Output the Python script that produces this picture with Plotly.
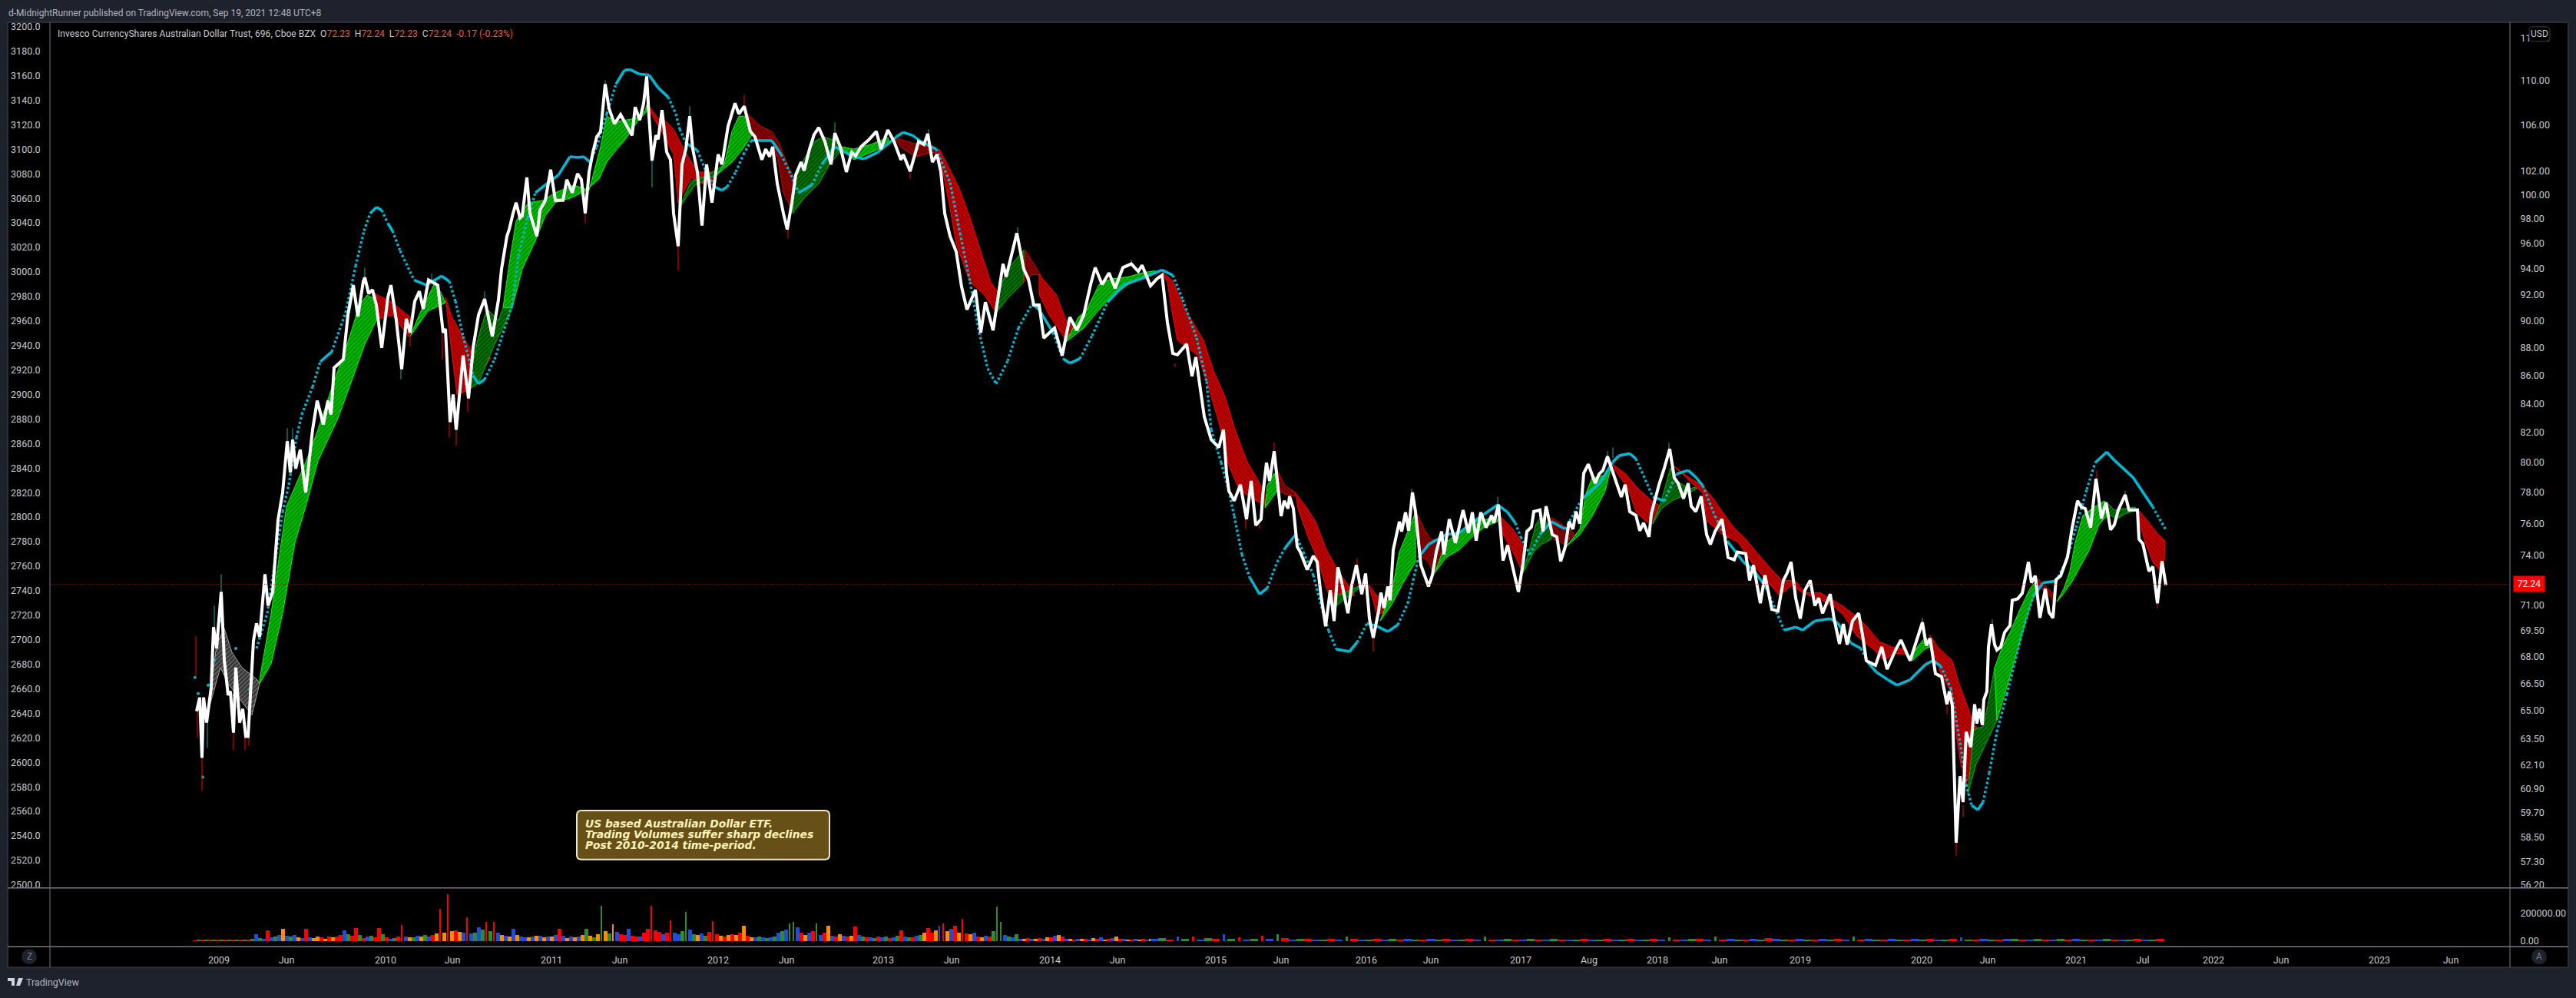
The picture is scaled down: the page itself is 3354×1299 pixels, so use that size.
import math
import plotly.graph_objects as go

W, H = 3354, 1299

# ---- axis labels ----
left_ticks = list(range(2500, 3201, 20))
right_ticks = [114, 110, 106, 102, 100, 98, 96, 94, 92, 90, 88, 86, 84, 82, 80, 78, 76, 74, 71, 69.5, 68, 66.5,
               65, 63.5, 62.1, 60.9, 59.7, 58.5, 57.3, 56.2]
volume_ticks = [0, 200000]
time_bars = [285, 373, 502, 589, 718, 807, 935, 1024, 1150, 1239, 1367, 1455, 1583, 1668, 1779, 1863, 1980, 2069,
             2158, 2239, 2344, 2502, 2588, 2703, 2790, 2882, 2970, 3098, 3191]
time_labels = ["2009", "Jun", "2010", "Jun", "2011", "Jun", "2012", "Jun", "2013", "Jun", "2014", "Jun", "2015", "Jun",
               "2016", "Jun", "2017", "Aug", "2018", "Jun", "2019", "2020", "Jun", "2021", "Jul", "2022", "Jun", "2023", "Jun"]
last_price = 72.24
note_lines = ["US based Australian Dollar ETF.", "Trading Volumes suffer sharp declines", "Post 2010-2014 time-period."]

# ---- price, read against the left scale ----
close_points = [
 (256,2641.7),(260,2652.9),(263,2603.7),(265,2652.9),(269,2632.4),(275,2661.1),(278,2710.3),(282,2692.9),(288,2739.0),
 (292,2683.5),(297,2654.8),(300,2657.9),(304,2624.2),(307,2677.3),(312,2632.4),(316,2643.6),(320,2621.1),(323,2621.1),
 (330,2699.1),(334,2713.4),(338,2702.2),(342,2734.0),(345,2753.4),(349,2727.8),(355,2739.0),(362,2797.7),(368,2820.1),
 (374,2861.9),(378,2836.3),(381,2863.2),(385,2839.5),(391,2855.1),(398,2820.1),(407,2871.3),(413,2895.0),(421,2875.6),
 (427,2895.0),(431,2883.7),(435,2921.8),(447,2928.7),(453,2964.8),(460,2989.2),(466,2963.6),(473,2992.3),(475,2995.4),
 (480,2982.3),(485,2985.4),(490,2973.0),(497,2938.0),(505,2979.2),(509,2989.2),(516,2960.5),(523,2920.6),(529,2961.7),
 (534,2950.5),(540,2976.1),(546,2984.2),(551,2969.8),(558,2993.5),(570,2989.2),(577,2950.5),(580,2953.6),(586,2877.5),
 (590,2900.0),(594,2871.3),(603,2931.8),(610,2896.8),(616,2938.0),(623,2964.8),(631,2977.9),(641,2947.4),(649,2977.3),
 (653,3002.3),(660,3029.1),(663,3034.7),(668,3047.8),(672,3056.5),(677,3044.1),(680,3045.9),(686,3077.1),(690,3047.8),
 (699,3029.1),(703,3050.3),(710,3058.4),(717,3083.4),(723,3058.4),(733,3058.4),(738,3075.3),(745,3064.6),(752,3080.2),
 (757,3075.3),(762,3047.8),(767,3081.5),(772,3097.7),(777,3110.2),(782,3114.6),(788,3153.2),(793,3133.3),(800,3120.8),
 (808,3128.3),(817,3117.7),(823,3111.4),(827,3134.5),(833,3123.9),(838,3137.6),(842,3159.5),(845,3127.0),(849,3090.8),
 (854,3111.4),(857,3108.3),(862,3132.0),(868,3097.7),(873,3091.5),(877,3047.8),(883,3021.0),(888,3087.7),(893,3100.2),
 (898,3127.0),(902,3100.2),(908,3081.5),(914,3037.8),(920,3087.7),(927,3056.5),(935,3095.8),(940,3087.7),(948,3118.9),
 (957,3137.6),(962,3128.9),(969,3135.1),(977,3114.6),(983,3110.2),(992,3091.5),(997,3100.2),(1002,3094.0),(1006,3102.1),
 (1012,3072.1),(1020,3047.8),(1025,3034.7),(1031,3056.5),(1036,3079.0),(1043,3089.6),(1047,3082.7),(1054,3100.2),
 (1060,3112.1),(1066,3117.7),(1074,3106.4),(1082,3087.7),(1087,3113.3),(1094,3102.1),(1102,3081.5),(1109,3097.7),
 (1114,3094.6),(1121,3102.1),(1132,3108.3),(1141,3114.6),(1147,3100.2),(1156,3115.8),(1164,3106.4),(1173,3091.5),
 (1176,3095.8),(1185,3082.1),(1196,3106.4),(1203,3103.9),(1208,3112.7),(1214,3089.6),(1220,3095.8),(1225,3081.5),
 (1230,3047.8),(1237,3029.1),(1245,3016.6),(1252,2987.9),(1259,2969.2),(1270,2985.4),(1277,2950.5),(1283,2975.4),
 (1293,2952.4),(1306,3006.6),(1310,2996.0),(1324,3031.6),(1333,3002.3),(1339,2994.2),(1346,2973.0),(1353,2973.0),
 (1359,2946.1),(1373,2954.2),(1383,2931.8),(1393,2963.0),(1402,2952.4),(1411,2964.8),(1420,2989.8),(1426,3003.5),
 (1435,2989.8),(1444,2999.2),(1452,2986.7),(1462,3003.5),(1473,3006.6),(1482,3000.4),(1487,3005.4),(1498,2988.6),
 (1507,2994.8),(1513,2997.3),(1520,2958.6),(1527,2933.6),(1533,2932.4),(1545,2941.1),(1552,2914.9),(1557,2930.5),
 (1568,2881.9),(1577,2863.2),(1587,2856.9),(1593,2871.3),(1597,2835.7),(1600,2821.4),(1607,2813.3),(1615,2826.4),
 (1623,2798.3),(1629,2829.5),(1635,2793.3),(1642,2798.3),(1644,2817.0),(1649,2844.4),(1653,2829.5),(1659,2853.8),
 (1665,2817.0),(1668,2800.8),(1672,2813.3),(1677,2807.0),(1679,2817.0),(1684,2807.0),(1689,2775.8),(1693,2771.5),
 (1702,2757.1),(1710,2768.3),(1715,2763.4),(1720,2735.9),(1726,2711.0),(1732,2740.3),(1737,2715.3),(1742,2759.0),
 (1747,2746.5),(1755,2721.6),(1760,2744.6),(1766,2760.9),(1773,2737.2),(1778,2754.0),(1783,2717.2),(1788,2701.6),
 (1795,2723.4),(1798,2738.4),(1802,2725.9),(1807,2743.4),(1810,2732.2),(1814,2773.3),(1822,2796.4),(1825,2788.3),
 (1830,2803.9),(1834,2788.9),(1839,2820.1),(1843,2804.5),(1850,2760.9),(1860,2743.4),(1865,2752.7),(1870,2771.5),
 (1877,2788.3),(1880,2769.6),(1887,2798.3),(1895,2778.9),(1905,2805.8),(1912,2787.1),(1917,2803.9),(1922,2780.8),
 (1928,2803.9),(1935,2791.4),(1942,2801.4),(1945,2795.2),(1951,2810.1),(1957,2764.6),(1963,2777.1),(1972,2750.9),
 (1977,2739.0),(1983,2762.1),(1988,2788.3),(1994,2792.0),(1997,2804.5),(2005,2805.8),(2009,2788.3),(2013,2808.9),
 (2021,2785.8),(2027,2783.9),(2032,2764.0),(2038,2775.8),(2043,2796.4),(2048,2790.2),(2052,2804.5),(2057,2794.6),
 (2062,2835.7),(2068,2843.2),(2077,2827.6),(2082,2835.1),(2087,2838.2),(2093,2849.4),(2098,2840.1),(2105,2827.6),
 (2111,2816.4),(2116,2826.4),(2122,2804.5),(2130,2801.4),(2135,2788.9),(2140,2795.2),(2147,2783.9),(2150,2802.6),
 (2160,2826.4),(2167,2840.1),(2174,2855.7),(2180,2832.0),(2185,2827.6),(2192,2815.1),(2198,2827.6),(2202,2808.9),
 (2208,2804.5),(2215,2817.0),(2222,2785.8),(2227,2777.7),(2233,2788.3),(2242,2798.3),(2250,2767.1),(2258,2765.2),
 (2262,2771.5),(2273,2770.2),(2278,2748.4),(2283,2760.9),(2292,2729.7),(2298,2752.7),(2307,2724.7),(2315,2723.4),
 (2322,2748.4),(2327,2754.6),(2332,2763.4),(2338,2734.0),(2344,2717.2),(2350,2740.3),(2357,2748.4),(2363,2727.8),
 (2368,2734.0),(2373,2721.6),(2383,2737.2),(2388,2717.2),(2395,2696.6),(2400,2712.8),(2405,2696.0),(2412,2715.3),
 (2420,2721.6),(2425,2704.1),(2430,2682.9),(2442,2679.1),(2450,2694.1),(2457,2676.0),(2468,2691.6),(2475,2699.7),
 (2487,2682.9),(2495,2698.5),(2503,2714.1),(2508,2695.4),(2513,2701.0),(2520,2672.3),(2528,2669.8),(2535,2647.3),
 (2538,2657.9),(2542,2646.1),(2545,2586.2),(2547,2534.4),(2552,2588.7),(2556,2567.5),(2560,2624.9),(2566,2612.4),
 (2571,2647.3),(2574,2631.7),(2577,2643.6),(2581,2630.5),(2583,2651.1),(2587,2657.9),(2589,2694.1),(2593,2712.8),
 (2597,2696.0),(2600,2691.6),(2605,2694.1),(2610,2706.0),(2617,2711.6),(2620,2732.2),(2627,2733.4),(2633,2737.8),
 (2641,2763.4),(2645,2746.5),(2650,2752.1),(2656,2717.8),(2663,2741.5),(2668,2722.2),(2673,2717.8),(2677,2749.0),
 (2683,2752.1),(2692,2767.7),(2698,2791.4),(2705,2813.3),(2710,2808.3),(2715,2807.0),(2722,2791.4),(2725,2808.3),
 (2729,2831.3),(2733,2813.3),(2736,2798.9),(2742,2812.0),(2748,2789.6),(2753,2793.9),(2758,2805.8),(2767,2818.2),
 (2772,2805.8),(2778,2805.8),(2783,2805.8),(2785,2782.1),(2790,2778.3),(2798,2755.9),(2803,2759.6),(2809,2729.7),
 (2815,2764.0),(2820,2744.6)]
close_bars, close_values = map(list, zip(*close_points))

# ---- cyan trailing line ----
trail_points = [
 (334,2692.9),(348,2721.6),(368,2804.5),(376,2826.4),(386,2865.0),(393,2883.7),(407,2906.2),(417,2926.8),(432,2934.9),
 (450,2966.7),(463,3004.8),(474,3033.5),(482,3047.8),(490,3052.8),(497,3050.3),(505,3039.7),(511,3033.5),(521,3017.2),
 (539,2993.5),(555,2989.2),(575,2996.7),(585,2992.3),(593,2976.1),(603,2947.4),(616,2915.6),(623,2908.7),(631,2912.4),
 (644,2928.7),(662,2963.6),(667,2973.0),(675,3012.9),(687,3044.1),(697,3064.6),(710,3070.9),(727,3079.0),(742,3094.0),
 (753,3093.3),(760,3094.0),(768,3089.6),(777,3102.1),(790,3128.9),(802,3153.2),(813,3164.5),(820,3165.1),(833,3161.3),
 (845,3160.7),(857,3150.1),(870,3142.6),(880,3128.9),(885,3116.4),(893,3105.2),(908,3099.0),(917,3085.2),(930,3069.6),
 (940,3066.5),(947,3069.6),(958,3081.5),(968,3095.8),(978,3107.1),(993,3107.1),(1005,3107.1),(1017,3095.8),(1030,3079.0),
 (1040,3064.6),(1057,3070.9),(1070,3087.7),(1087,3102.1),(1109,3094.6),(1125,3092.1),(1143,3097.7),(1167,3110.2),
 (1176,3113.9),(1188,3111.4),(1199,3106.4),(1219,3100.2),(1237,3072.8),(1250,3031.6),(1263,2991.7),(1275,2950.5),
 (1286,2921.2),(1297,2908.7),(1312,2927.4),(1326,2954.2),(1344,2974.2),(1353,2969.2),(1371,2950.5),(1384,2929.3),
 (1393,2925.5),(1406,2929.3),(1422,2948.0),(1442,2975.4),(1464,2989.8),(1487,2994.8),(1513,3001.6),(1527,2997.3),
 (1540,2977.3),(1558,2946.1),(1571,2910.6),(1577,2871.3),(1590,2844.4),(1600,2821.4),(1607,2800.8),(1617,2769.6),
 (1627,2750.9),(1640,2737.2),(1650,2742.1),(1663,2763.4),(1673,2774.6),(1687,2785.8),(1697,2771.5),(1710,2752.7),
 (1722,2723.4),(1730,2707.2),(1740,2692.2),(1757,2690.4),(1767,2697.9),(1780,2713.4),(1793,2711.0),(1807,2706.6),
 (1820,2712.2),(1833,2729.7),(1840,2748.4),(1847,2767.1),(1860,2777.7),(1883,2785.8),(1900,2787.1),(1923,2798.3),
 (1950,2810.1),(1963,2803.9),(1973,2795.2),(1980,2783.9),(1992,2769.6),(2005,2785.8),(2020,2796.4),(2038,2790.2),
 (2060,2815.1),(2083,2827.6),(2100,2845.1),(2108,2850.1),(2122,2851.9),(2130,2847.6),(2140,2833.8),(2152,2816.4),
 (2167,2813.3),(2183,2835.1),(2198,2838.2),(2208,2832.6),(2217,2825.7),(2233,2800.8),(2250,2779.6),(2270,2763.4),
 (2283,2757.1),(2300,2742.1),(2313,2722.8),(2323,2707.8),(2338,2710.3),(2347,2707.8),(2363,2715.3),(2383,2717.2),
 (2393,2713.4),(2410,2697.2),(2423,2692.9),(2432,2681.6),(2443,2673.6),(2458,2667.3),(2470,2662.9),(2487,2667.3),
 (2507,2679.8),(2517,2682.9),(2527,2678.5),(2540,2660.4),(2553,2612.4),(2560,2581.8),(2567,2565.0),(2575,2561.2),
 (2582,2567.5),(2590,2591.2),(2600,2624.9),(2613,2655.4),(2633,2706.0),(2647,2734.7),(2660,2746.5),(2677,2747.8),
 (2690,2763.4),(2703,2791.4),(2717,2822.6),(2728,2844.4),(2743,2853.2),(2753,2846.3),(2777,2832.6),(2803,2808.3),
 (2820,2789.6)]
trail_bars, trail_values = map(list, zip(*trail_points))

early_dot_bars = [254, 258, 264, 271, 279, 287, 305, 307, 310, 317, 325]
early_dot_values = [2669.2, 2656.1, 2588.0, 2662.9, 2683.5, 2715.3, 2654.8, 2692.9, 2645.4, 2638.6, 2659.2]

# ---- candle wicks: bar, high, low ----
up_wicks = [(288,2753.4,2739.0),(279,2727.8,2710.3),(270,2632.4,2611.8),(374,2872.5,2861.9),(381,2872.5,2863.2),
 (475,3003.5,2995.4),(562,2998.5,2993.5),(631,2984.2,2977.9),(522,2920.6,2912.4),(788,3156.3,3153.2),(849,3090.8,3069.0),
 (898,3135.1,3127.0),(1087,3122.0,3113.3),(1209,3116.4,3112.7),(1325,3036.6,3031.6),(1473,3009.8,3006.6),(1838,2823.2,2820.1),
 (1950,2816.4,2810.1),(2173,2860.7,2855.7),(2100,2856.9,2848.2),(2093,2853.8,2849.4),(2767,2821.4,2818.2),(2503,2717.8,2714.1),
 (2594,2716.6,2712.8)]
down_wicks = [(255,2702.8,2669.2),(257,2641.7,2619.9),(263,2603.7,2576.8),(304,2624.2,2609.9),(319,2621.1,2609.9),
 (324,2621.1,2613.6),(585,2877.5,2865.0),(594,2871.3,2858.2),(609,2896.8,2885.6),(534,2950.5,2939.3),(576,2950.5,2928.7),
 (883,3021.0,3001.0),(762,3047.8,3039.7),(1026,3034.7,3027.2),(969,3144.5,3135.1),(842,3163.2,3159.5),(1185,3082.1,3075.9),
 (1277,2950.5,2946.1),(1788,2701.6,2690.4),(1767,2766.5,2760.9),(1659,2860.7,2853.8),(1530,2925.5,2922.4),(1622,2798.3,2790.2),
 (1640,2794.5,2790.2),(2547,2534.4,2523.8),(2556,2565.0,2555.6),(2535,2646.1,2639.2),(2809,2729.7,2725.3),(2730,2838.2,2831.3)]

# ---- ribbon segments: upper edge and lower edge, as (bar, value) ----
ribbon_kinds = ["flat","up","down","up","down","dkup","up","down","dkup","up","dkdown","dkup","up","dkdown","down","dkup",
 "dkdown","down","up","down","up","dkdown","down","dkup","down","up","dkdown","up","down","dkup","dkdown","up","down","dkup",
 "down","up","down","dkup","up","dkdown","up","dkup","down"]
ribbon_upper = [
 [(282,2696.0),(292,2709.1),(302,2689.7),(315,2677.3),(335,2667.3)],
 [(338,2667.3),(353,2721.6),(373,2808.9),(399,2846.3),(414,2871.3),(432,2905.6),(450,2936.8),(468,2973.0),(478,2981.1),(490,2977.3)],
 [(488,2982.3),(511,2974.8),(537,2961.7)],
 [(547,2966.7),(567,2992.3),(577,2979.2)],
 [(580,2979.2),(588,2963.6),(603,2947.4),(616,2933.0),(639,2929.9)],
 [(623,2947.4),(634,2969.8),(649,2960.5),(655,2971.0)],
 [(655,2971.0),(663,3006.6),(672,3041.6),(688,3056.5),(707,3058.4),(723,3064.6),(747,3070.9),(767,3066.5),(782,3102.1),(790,3127.0),(803,3122.7),(827,3125.2),(840,3131.4),(843,3138.3)],
 [(845,3135.1),(857,3125.2),(867,3122.7),(877,3116.4),(887,3104.0),(893,3097.7),(900,3089.6),(910,3081.5),(930,3081.5)],
 [(887,3056.5),(900,3074.0),(920,3078.4),(943,3087.7)],
 [(943,3087.7),(953,3114.6),(962,3127.0),(972,3127.0),(977,3112.7)],
 [(972,3130.1),(990,3119.0),(1005,3114.6),(1013,3106.4),(1027,3085.2),(1037,3072.8)],
 [(1035,3075.3),(1043,3087.7),(1060,3106.4),(1073,3110.2),(1090,3106.4)],
 [(1096,3102.1),(1112,3100.2),(1134,3104.0),(1156,3109.6)],
 [(1165,3109.6),(1188,3105.2),(1221,3100.2)],
 [(1223,3100.2),(1237,3083.4),(1250,3066.5),(1263,3044.1),(1277,3016.6),(1290,2991.7),(1301,2981.7)],
 [(1299,2981.7),(1312,3002.3),(1333,3017.9)],
 [(1335,3017.9),(1348,3004.1),(1353,2999.2)],
 [(1353,2997.9),(1375,2981.7),(1388,2960.5),(1402,2954.2)],
 [(1404,2963.0),(1415,2969.2),(1431,2989.8),(1446,2994.2),(1469,2996.0),(1487,2999.2),(1504,3001.0)],
 [(1513,3000.4),(1527,2992.9),(1542,2971.0),(1558,2954.2),(1567,2944.2),(1580,2919.3),(1595,2898.1),(1608,2871.3),(1623,2846.3),(1640,2827.6),(1647,2818.2)],
 [(1650,2825.7),(1659,2835.7),(1663,2827.6)],
 [(1663,2838.2),(1673,2825.7),(1687,2820.1)],
 [(1687,2819.5),(1700,2808.9),(1713,2796.4),(1727,2773.3),(1740,2759.0),(1748,2750.9),(1763,2738.4)],
 [(1740,2735.9),(1757,2740.3),(1773,2744.6)],
 [(1782,2744.6),(1793,2735.9),(1808,2732.2)],
 [(1813,2742.1),(1822,2771.5),(1833,2788.3),(1843,2803.9)],
 [(1845,2802.6),(1853,2792.0),(1862,2782.1),(1873,2780.8)],
 [(1883,2779.6),(1900,2788.3),(1917,2796.4),(1933,2797.7),(1948,2800.8)],
 [(1953,2800.8),(1970,2790.2),(1983,2777.7),(1985,2776.4)],
 [(1993,2777.7),(2000,2794.5),(2007,2800.8),(2020,2790.2)],
 [(2020,2799.5),(2033,2794.5),(2047,2788.3)],
 [(2057,2790.2),(2065,2819.5),(2073,2832.0),(2087,2833.8),(2098,2841.3)],
 [(2100,2843.2),(2117,2835.1),(2133,2823.2),(2153,2812.0),(2163,2808.9)],
 [(2163,2813.3),(2175,2840.1),(2183,2829.5),(2200,2823.2),(2215,2825.7)],
 [(2180,2841.3),(2200,2832.0),(2217,2825.7),(2233,2813.3),(2243,2803.9),(2257,2792.0),(2273,2782.1),(2287,2771.5),(2307,2757.1),(2320,2748.4),(2337,2748.4),(2350,2738.4),(2370,2738.4),(2387,2732.2),(2400,2727.2),(2420,2717.8),(2433,2709.1),(2447,2698.5),(2463,2694.1),(2483,2691.6)],
 [(2490,2689.1),(2507,2702.2)],
 [(2513,2703.5),(2523,2694.1),(2542,2682.9),(2550,2665.4),(2563,2643.6),(2570,2630.5),(2583,2624.9)],
 [(2570,2626.7),(2582,2629.2),(2588,2646.1),(2597,2677.3)],
 [(2597,2677.3),(2607,2694.1),(2617,2706.0),(2630,2724.7),(2643,2741.5),(2652,2749.0)],
 [(2653,2750.2),(2663,2744.0),(2675,2736.5)],
 [(2687,2741.5),(2695,2755.9),(2702,2779.6),(2712,2801.4),(2727,2808.3),(2740,2813.3)],
 [(2743,2812.0),(2753,2805.8),(2767,2807.0),(2780,2808.3)],
 [(2783,2807.0),(2797,2796.4),(2810,2785.8),(2819,2780.8)],
]
ribbon_lower = [
 [(271,2641.7),(287,2677.3),(297,2664.2),(328,2638.6),(338,2664.2)],
 [(338,2664.2),(353,2680.4),(368,2721.6),(384,2779.0),(399,2810.8),(414,2845.7),(440,2880.6),(455,2906.2),(475,2941.1),(491,2961.7)],
 [(493,2961.7),(511,2964.8),(532,2947.4)],
 [(534,2947.4),(557,2968.0),(580,2974.8)],
 [(588,2934.9),(595,2900.0),(608,2903.1),(618,2909.3),(639,2929.9)],
 [(608,2903.1),(623,2909.3),(644,2941.1),(662,2963.6),(667,2971.0)],
 [(667,2971.0),(680,3002.3),(697,3025.3),(710,3045.9),(723,3056.5),(743,3060.3),(763,3066.5),(780,3075.9),(790,3089.6),(800,3097.7),(813,3107.1),(830,3122.7),(843,3131.4)],
 [(848,3128.9),(867,3108.3),(877,3095.8),(883,3056.5),(890,3064.6),(900,3077.1),(910,3072.8),(930,3070.9)],
 [(887,3054.0),(893,3060.3),(905,3070.9),(933,3079.0)],
 [(933,3079.0),(953,3089.6),(967,3100.2),(980,3112.7)],
 [(977,3112.7),(990,3107.1),(1005,3107.1),(1013,3091.5),(1020,3064.6),(1028,3054.0),(1033,3047.8)],
 [(1032,3047.8),(1047,3060.3),(1067,3072.8),(1080,3087.7),(1097,3100.2)],
 [(1097,3100.2),(1112,3091.5),(1134,3097.7),(1158,3104.0)],
 [(1172,3102.1),(1192,3094.0),(1210,3097.1),(1223,3097.7)],
 [(1225,3089.6),(1237,3052.2),(1245,3022.9),(1263,2991.7),(1281,2981.7),(1297,2966.7)],
 [(1297,2966.7),(1312,2978.6),(1333,2991.7)],
 [(1333,2991.7),(1344,2997.9),(1355,2997.3)],
 [(1353,2981.7),(1366,2964.8),(1386,2946.1),(1402,2951.1)],
 [(1388,2943.0),(1411,2954.2),(1431,2969.2),(1446,2979.2),(1469,2989.8),(1491,2996.0),(1504,2999.2)],
 [(1520,2991.7),(1525,2971.0),(1533,2944.2),(1560,2931.8),(1572,2908.7),(1587,2877.5),(1600,2842.0),(1613,2823.2),(1630,2815.1),(1647,2810.1)],
 [(1647,2807.6),(1663,2821.4)],
 [(1663,2821.4),(1677,2818.2),(1687,2817.0)],
 [(1690,2807.0),(1703,2783.9),(1717,2763.4),(1727,2742.1),(1735,2727.8),(1748,2735.9),(1763,2735.9)],
 [(1740,2727.8),(1757,2735.9),(1770,2742.1)],
 [(1787,2734.0),(1793,2719.7),(1803,2723.4),(1813,2734.0)],
 [(1797,2715.3),(1813,2729.7),(1827,2746.5),(1843,2763.4)],
 [(1847,2769.6),(1860,2763.4),(1867,2752.7),(1877,2763.4)],
 [(1868,2754.6),(1883,2767.1),(1900,2773.3),(1917,2783.9),(1933,2792.0),(1950,2796.4)],
 [(1957,2785.8),(1970,2771.5),(1983,2754.6)],
 [(1983,2754.6),(1997,2771.5),(2007,2777.7),(2020,2782.1)],
 [(2022,2782.1),(2038,2777.7),(2050,2785.8)],
 [(2040,2776.4),(2057,2785.8),(2073,2800.8),(2090,2821.4),(2098,2842.0)],
 [(2103,2838.2),(2120,2823.2),(2130,2804.5),(2143,2796.4),(2152,2794.5)],
 [(2152,2794.5),(2163,2807.0),(2177,2813.3),(2190,2817.0),(2213,2824.5)],
 [(2217,2819.5),(2223,2796.4),(2243,2785.8),(2263,2779.6),(2283,2760.9),(2300,2748.4),(2317,2735.9),(2333,2744.6),(2347,2738.4),(2370,2732.8),(2390,2725.9),(2400,2720.3),(2417,2703.5),(2440,2691.6),(2453,2682.9),(2467,2689.1),(2483,2687.9)],
 [(2490,2682.9),(2507,2692.9),(2515,2694.1)],
 [(2515,2694.1),(2527,2672.3),(2540,2657.9),(2547,2622.4),(2553,2598.7),(2560,2583.1),(2570,2598.7),(2583,2614.9)],
 [(2562,2574.3),(2573,2598.7),(2587,2617.4),(2600,2634.2)],
 [(2600,2634.2),(2607,2648.6),(2617,2669.8),(2630,2698.5),(2643,2727.2),(2653,2742.8)],
 [(2655,2742.8),(2667,2737.8),(2675,2729.7)],
 [(2678,2730.9),(2687,2737.8),(2697,2746.5),(2707,2758.4),(2720,2772.7),(2733,2793.9),(2747,2803.9)],
 [(2747,2801.4),(2757,2798.9),(2767,2802.6),(2782,2805.8)],
 [(2785,2796.4),(2793,2779.6),(2803,2763.4),(2813,2755.9),(2818,2765.2)],
]

# ---- volume, thousands of shares ----
volume_early = [
 (253,3),(258,5),(263,12),(268,8),(273,6),(278,9),(283,5),(288,7),(293,4),(298,5),(303,8),(308,6),(313,7),(318,9),(323,11),(328,13),
 (333,52),(338,22),(343,18),(348,80),(353,26),(358,34),(363,45),(368,86),(373,38),(378,30),(383,42),(388,24),(393,20),(398,90),(403,28),(408,22),(413,30),(418,25),(423,18),(428,35),(433,26),(438,30),(443,42),(448,80),(453,50),(458,36),(463,97),(468,44),(473,22),(478,34),(483,40),(488,28),(493,97),(498,52),(503,26),(508,18),(513,22),(518,30),(523,115),(528,34),(533,25),(538,28),(543,38),(548,32),(553,46),(558,30),(563,42),(568,55),(573,235),(578,60),(583,344),(588,72),(593,78),(598,65),(603,60),(608,171),(613,55),(618,62),(623,100),(628,82),(633,137),(638,70),(643,140),(648,60),(653,46),(658,38),(663,30),(668,86),(673,42),(678,30),(683,28),(688,24),(693,32),(698,36),(703,40),(708,28),(713,34),(718,30),(723,44),(728,86),(733,38),(738,22),(743,30),(748,26),(753,34),(758,42),(763,90),(768,36),(773,28),(778,50),(783,259),(788,72),(793,55),(798,124),(803,64),(808,48),(813,42),(818,90),(823,38),(828,30),(833,34),(838,60),(843,90),(848,259),(853,80),(858,64),(863,52),(868,58),(873,150),(878,60),(883,48),(888,72),(893,212),(898,84),(903,50),(908,46),(913,56),(918,40),(923,64),(928,146),(933,48),(938,36),(943,30),(948,42),(953,52),(958,44),(963,60),(968,109),(973,36),(978,28),(983,24),(988,30),(993,26),(998,22),(1003,28),(1008,34),(1013,62),(1018,70),(1023,84),(1028,128),(1033,137),(1038,100),(1043,60),(1048,46),(1053,58),(1058,70),(1063,128),(1068,44),(1073,62),(1078,109),(1083,40),(1088,34),(1093,52),(1098,38),(1103,30),(1108,36),(1113,103),(1118,44),(1123,32),(1128,28),(1133,24),(1138,20),(1143,30),(1148,26),(1153,34),(1158,22),(1163,28),(1168,40),(1173,75),(1178,30),(1183,24),(1188,28),(1193,36),(1198,42),(1203,60),(1208,96),(1213,58),(1218,80),(1223,110),(1228,131),(1233,70),(1238,90),(1243,109),(1248,62),(1253,160),(1258,56),(1263,50),(1268,60),(1273,34),(1278,26),(1283,38),(1288,30),(1293,70),(1298,255),(1303,137),(1308,44),(1313,30),(1318,24),(1323,47),(1328,18),(1333,16),(1338,20),(1343,14),(1348,18),(1353,22),(1358,16),(1363,24),(1368,28),(1373,36),(1378,43),(1383,30),(1388,18),(1393,14),(1398,12),(1403,16),(1408,14),(1413,18),(1418,12),(1423,20),(1428,14),(1433,24),(1438,12),(1443,16),(1448,20),(1453,34),(1458,18),(1463,14),(1468,12),(1473,10),(1478,14),(1483,10),(1488,16),(1493,12),(1498,18)]
volume_late = [
 14,22,12,30,16,34,12,20,14,52,16,24,12,18,36,14,47,20,12,14,18,12,10,16,12,34,14,10,12,16,10,14,12,18,10,12,14,10,16,12,
 10,14,12,34,12,10,14,10,12,16,10,12,14,10,12,10,14,12,10,16,12,10,14,10,12,14,10,28,12,10,16,14,12,34,10,14,12,10,16,12,
 20,14,10,12,14,10,12,16,10,14,12,34,12,14,10,12,14,10,12,16,10,14,12,10,14,24,12,10,14,10,12,16,14,10,12,14,10,12,16,10,
 14,12,10,12,14,10,12,10,14,12,10,14]

volume_breaks = [330, 410, 440, 520, 560, 600, 640, 680, 760, 800, 880, 920, 980, 1030, 1110, 1200, 1290, 1330, 1500, 99999]
volume_palettes = ["rg", "bgbo", "or", "bgr", "gbo", "ro", "bg", "ob", "bo", "go", "rrb", "bgo", "ro", "bg", "obr", "grb", "rob", "gb", "orb", "rbg"]
volume_green_spikes = [783, 893, 1298, 1303, 1033, 1063, 1028]
volume_red_spikes = [573, 583, 608, 848, 633, 643, 728, 928, 1253, 1228, 1243, 1208, 348, 398, 463, 493, 523]

# ---- colours and geometry, in page pixels ----
BG = "#1e222d"; FRAME = "#2a2e39"; RULE = "#787b86"; TEXT = "#c8cad0"
PLOT_L, PLOT_R, MAIN_T, MAIN_B, VOL_B, FRAME_L, FRAME_R, FRAME_B = 65, 3268, 27, 1159, 1236, 10, 3344, 1263
SANS = "Roboto, Noto Sans, sans-serif"
px = lambda v: v / W
py = lambda v: 1 - v / H
KIND = {
 "flat":   ("#a0a0a0", "#303030", "/"),
 "up":     ("#00ff00", "#008c00", "/"),
 "dkup":   ("#00b400", "#004a00", "/"),
 "down":   ("#ff0000", "#9a0000", "\\"),
 "dkdown": ("#d00000", "#600000", "\\"),
}
VOL_COLOR = {"r": "#ff0000", "g": "#2e8b2e", "b": "#1f4fd8", "o": "#ff8c00"}

fig = go.Figure()

# volume
def vol_color(bar, i):
    if bar in volume_green_spikes: return VOL_COLOR["g"]
    if bar in volume_red_spikes: return VOL_COLOR["r"]
    for limit, pal in zip(volume_breaks, volume_palettes):
        if bar <= limit:
            return VOL_COLOR[pal[i % len(pal)]]
    return VOL_COLOR["r"]

early_bars, early_k = zip(*volume_early)
late_bars = [1503 + 10 * i for i in range(len(volume_late))]
all_bars = list(early_bars) + late_bars
all_k = list(early_k) + volume_late
widths = [(5 if k < 110 else 2.2) if b < 1500 else (10 if k < 24 else 3) for b, k in zip(all_bars, all_k)]
fig.add_trace(go.Bar(x=all_bars, y=[k * 1000 for k in all_k], width=widths,
                     marker=dict(color=[vol_color(b, i) for i, b in enumerate(all_bars)], line_width=0),
                     xaxis="x2", yaxis="y3", showlegend=False, hoverinfo="skip"))

# ribbon
for kind, up, lo in zip(ribbon_kinds, ribbon_upper, ribbon_lower):
    fg, bg, shape = KIND[kind]
    xs = [p[0] for p in up] + [p[0] for p in reversed(lo)]
    ys = [p[1] for p in up] + [p[1] for p in reversed(lo)]
    fig.add_trace(go.Scatter(x=xs + xs[:1], y=ys + ys[:1], mode="lines", fill="toself",
                             line=dict(color=fg, width=1), fillcolor=bg,
                             fillpattern=dict(shape=shape, fgcolor=fg, bgcolor=bg, size=4, solidity=0.4),
                             showlegend=False, hoverinfo="skip"))

# trail: solid where it moves slowly; beads appear only where each bar jumps far
fig.add_trace(go.Scatter(x=early_dot_bars, y=early_dot_values, mode="markers", marker=dict(color="#00b8d4", size=4),
                         showlegend=False, hoverinfo="skip"))
slow_x, slow_y, fast_x, fast_y = [], [], [], []
for (x0, v0), (x1, v1) in zip(trail_points, trail_points[1:]):
    steep = abs(v1 - v0) / 0.6238 / (x1 - x0) > 1.7
    xs_, ys_ = (fast_x, fast_y) if steep else (slow_x, slow_y)
    xs_ += [x0, x1, None]
    ys_ += [v0, v1, None]
fig.add_trace(go.Scatter(x=slow_x, y=slow_y, mode="lines", line=dict(color="#00b8d4", width=3.6),
                         showlegend=False, hoverinfo="skip"))
fig.add_trace(go.Scatter(x=fast_x, y=fast_y, mode="lines", line=dict(color="#00b8d4", width=3.4, dash="3px,3px"),
                         showlegend=False, hoverinfo="skip"))

# wicks
def wick_trace(rows, color):
    xs, ys = [], []
    for bar, hi, lo in rows:
        xs += [bar, bar, None]
        ys += [hi, lo, None]
    return go.Scatter(x=xs, y=ys, mode="lines", line=dict(color=color, width=1), showlegend=False, hoverinfo="skip")
fig.add_trace(wick_trace(up_wicks, "#26a69a"))
fig.add_trace(wick_trace(down_wicks, "#ff0000"))

# close
fig.add_trace(go.Scatter(x=close_bars, y=close_values, mode="lines", line=dict(color="#ffffff", width=4),
                         showlegend=False, hoverinfo="skip"))

# last-price line on the price (log) scale
fig.add_trace(go.Scatter(x=[PLOT_L, PLOT_R], y=[last_price, last_price], yaxis="y2", mode="lines",
                         line=dict(color="#c00000", width=1, dash="1px,2px"), showlegend=False, hoverinfo="skip"))

# ---- chrome ----
shapes = [
 dict(type="rect", xref="paper", yref="paper", x0=px(FRAME_L), x1=px(FRAME_R), y0=py(FRAME_B), y1=py(MAIN_T),
      fillcolor="#000000", line=dict(color=FRAME, width=2), layer="below"),
]
for yy in (MAIN_B, VOL_B):
    shapes.append(dict(type="line", xref="paper", yref="paper", x0=px(FRAME_L), x1=px(FRAME_R), y0=py(yy), y1=py(yy),
                       line=dict(color=RULE, width=1.5)))
for xx in (PLOT_L, PLOT_R):
    shapes.append(dict(type="line", xref="paper", yref="paper", x0=px(xx), x1=px(xx), y0=py(FRAME_B), y1=py(MAIN_T),
                       line=dict(color=RULE, width=1)))

def rounded(x0, y0, x1, y1, r):
    X0, X1, Y0, Y1, rx, ry = px(x0), px(x1), py(y0), py(y1), r / W, r / H
    return (f"M{X0+rx},{Y0} L{X1-rx},{Y0} Q{X1},{Y0} {X1},{Y0-ry} L{X1},{Y1+ry} Q{X1},{Y1} {X1-rx},{Y1} "
            f"L{X0+rx},{Y1} Q{X0},{Y1} {X0},{Y1+ry} L{X0},{Y0-ry} Q{X0},{Y0} {X0+rx},{Y0} Z")
shapes.append(dict(type="path", xref="paper", yref="paper", path=rounded(751, 1058, 1080, 1122, 6),
                   fillcolor="#665018", line=dict(color="#efe8c8", width=2)))
shapes.append(dict(type="path", xref="paper", yref="paper", path=rounded(3293, 33, 3320, 52, 5),
                   fillcolor="#000000", line=dict(color="#363a45", width=1)))
for cx in (38, 3306):
    shapes.append(dict(type="circle", xref="paper", yref="paper", x0=px(cx-10), x1=px(cx+10), y0=py(1259), y1=py(1239),
                       fillcolor="#1e222d", line=dict(width=0)))
# TradingView mark
shapes.append(dict(type="path", xref="paper", yref="paper", fillcolor="#d1d4dc", line=dict(width=0),
                   path=f"M{px(10)},{py(1277)} L{px(19)},{py(1277)} L{px(19)},{py(1287)} L{px(15)},{py(1287)} L{px(15)},{py(1281)} L{px(10)},{py(1281)} Z"))
shapes.append(dict(type="path", xref="paper", yref="paper", fillcolor="#d1d4dc", line=dict(width=0),
                   path=f"M{px(24)},{py(1277)} L{px(30)},{py(1277)} L{px(26)},{py(1287)} L{px(21)},{py(1287)} Z"))

def note(x, y, text, size=12, color=TEXT, xanchor="left", family=SANS, **kw):
    return dict(xref="paper", yref="paper", x=px(x), y=py(y), text=text, showarrow=False, xanchor=xanchor, yanchor="middle",
                font=dict(family=family, size=size, color=color), align="left", borderpad=0, **kw)

RED = "#ef5350"
legend = (f"Invesco CurrencyShares Australian Dollar Trust, 696, Cboe BZX  O<span style='color:{RED}'>72.23</span>  "
          f"H<span style='color:{RED}'>72.24</span>  L<span style='color:{RED}'>72.23</span>  "
          f"C<span style='color:{RED}'>72.24</span>  <span style='color:{RED}'>-0.17 (-0.23%)</span>")
annotations = [
 note(10, 15, "d-MidnightRunner published on TradingView.com, Sep 19, 2021 12:48 UTC+8", color="#b2b5be"),
 note(74, 42, legend, size=12.1),
 note(33, 1282, "TradingView", size=12.5, color="#b2b5be"),
 note(38, 1249, "Z", color="#787b86", xanchor="center"),
 note(3306, 1249, "A", color="#787b86", xanchor="center"),
 note(3306.5, 42.5, "USD", xanchor="center"),
 dict(xref="paper", yref="y2", x=px(3293), y=math.log10(last_price), text=f"{last_price:.2f}", showarrow=False,
      xanchor="center", yanchor="middle", font=dict(family=SANS, size=12, color="#ffffff"),
      bgcolor="#ff0000", borderpad=0, width=40, height=20, align="center", valign="middle"),
]
for i, line in enumerate(note_lines):
    annotations.append(note(761, 1075 + 14 * i, f"<b><i>{line}</i></b>", size=13.8, color="#fff4b8", family="DejaVu Sans"))

tickfont = dict(family=SANS, size=12.5, color=TEXT)
hidden_tick = dict(ticks="outside", tickcolor="rgba(0,0,0,0)", showgrid=False, zeroline=False, showline=False)
fig.update_layout(
    width=W, height=H, autosize=False, margin=dict(l=0, r=0, t=0, b=0, pad=0),
    paper_bgcolor=BG, plot_bgcolor="rgba(0,0,0,0)", showlegend=False, bargap=0, hovermode=False,
    shapes=shapes, annotations=annotations,
    xaxis=dict(domain=[px(PLOT_L), px(PLOT_R)], range=[PLOT_L, PLOT_R], anchor="y", matches="x2", showticklabels=False,
               showgrid=False, zeroline=False, showline=False, ticks=""),
    xaxis2=dict(domain=[px(PLOT_L), px(PLOT_R)], range=[PLOT_L, PLOT_R], anchor="y3", tickmode="array", tickvals=time_bars,
                ticktext=time_labels, tickfont=tickfont, ticklen=6, tickangle=0, **hidden_tick),
    yaxis=dict(domain=[py(MAIN_B), py(MAIN_T)], range=[2497.6, 3203.7], side="left", anchor="x", tickmode="array",
               tickvals=left_ticks, ticktext=[f"{v:.1f}" for v in left_ticks], tickfont=tickfont, ticklen=9, **hidden_tick),
    yaxis2=dict(overlaying="y", side="right", anchor="x", type="log", range=[math.log10(56.056), math.log10(115.5)],
                tickmode="array", tickvals=right_ticks, ticktext=[f"{v:.2f}" for v in right_ticks], tickfont=tickfont,
                ticklen=10, **hidden_tick),
    yaxis3=dict(domain=[py(VOL_B), py(MAIN_B)], range=[-45000, 388700], side="right", anchor="x2", tickmode="array",
                tickvals=volume_ticks, ticktext=[f"{v:.2f}" for v in volume_ticks], tickfont=tickfont, ticklen=10, **hidden_tick),
)

fig.write_html("out.html", config={"displayModeBar": False},
               post_script="document.body.style.margin='0';document.body.style.background='#1e222d';")
